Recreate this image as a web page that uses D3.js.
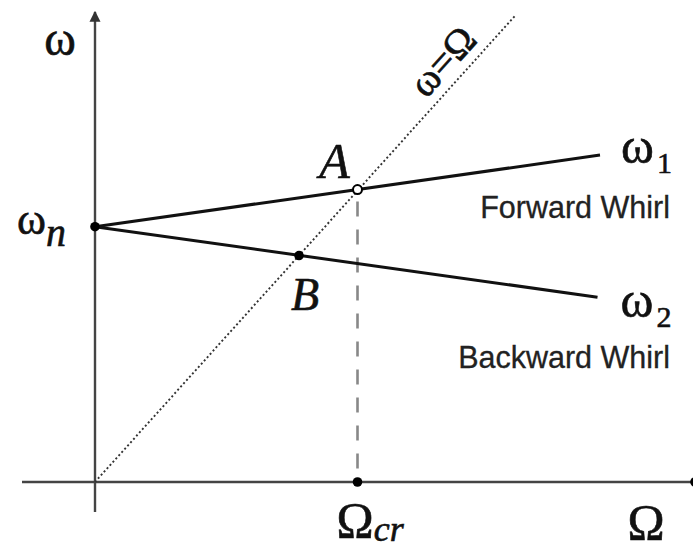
<!DOCTYPE html>
<html>
<head>
<meta charset="utf-8">
<script src="https://cdn.jsdelivr.net/npm/d3@7"></script>
<style>
  html, body { margin: 0; padding: 0; background: #fff; }
  svg { display: block; }
  .serif { font-family: "Liberation Serif", "Times New Roman", Times, serif; stroke: #111; stroke-width: 0.6px; }
  .sans { font-family: "Liberation Sans", Arial, Helvetica, sans-serif; stroke: #222; stroke-width: 0.3px; }
</style>
</head>
<body>
<svg id="chart" width="693" height="550"></svg>
<script>
// ---- data (Ω on x, ω on y) ----
const omegaN = 4.6;                               // natural frequency ωn
const forwardWhirl = [[0, 4.6], [10.1, 5.89]];    // ω1
const backwardWhirl = [[0, 4.6], [10.05, 3.33]];  // ω2
const syncLine = [[0, 0], [8.4, 8.4]];            // ω = Ω
const pointA = [5.25, 5.27];                      // forward whirl crossing, Ωcr
const pointB = [4.08, 4.08];                      // backward whirl crossing
const axisXExtent = [-1.46, 12.05];
const axisYExtent = [-0.54, 8.47];
const labels = {
  yAxis: "ω", xAxis: "Ω", sync: "ω=Ω",
  forward: "Forward Whirl", backward: "Backward Whirl"
};

const svg = d3.select("#chart");
const x = d3.scaleLinear().domain([0, 12]).range([95, 695]);
const y = d3.scaleLinear().domain([0, 8]).range([482, 38]);
const line = d3.line().x(d => x(d[0])).y(d => y(d[1]));

// arrow marker
svg.append("defs").append("marker")
  .attr("id", "arrow").attr("viewBox", "0 0 10 10")
  .attr("refX", 9).attr("refY", 5)
  .attr("markerWidth", 4.6).attr("markerHeight", 4.6)
  .attr("markerUnits", "strokeWidth")
  .attr("orient", "auto")
  .append("path").attr("d", "M0,0 L10,5 L0,10 Z").attr("fill", "#333");

// axes
svg.append("path")
  .attr("d", line([[axisXExtent[0], 0], [axisXExtent[1], 0]]))
  .attr("stroke", "#444").attr("stroke-width", 2.6).attr("fill", "none");
svg.append("path")
  .attr("d", line([[0, axisYExtent[0]], [0, axisYExtent[1]]]))
  .attr("stroke", "#444").attr("stroke-width", 2.4).attr("fill", "none")
  .attr("marker-end", "url(#arrow)");

// ω = Ω dotted line
svg.append("path")
  .attr("d", line(syncLine))
  .attr("stroke", "#333").attr("stroke-width", 1.9)
  .attr("stroke-dasharray", "2,2.4").attr("fill", "none");

// vertical dashed line from A down to axis
svg.append("path")
  .attr("d", line([[pointA[0], pointA[1]], [pointA[0], 0]]))
  .attr("stroke", "#888").attr("stroke-width", 2.6)
  .attr("stroke-dasharray", "15,13").attr("stroke-dashoffset", -12)
  .attr("fill", "none");

// whirl lines
[forwardWhirl, backwardWhirl].forEach(d => {
  svg.append("path").attr("d", line(d))
    .attr("stroke", "#111").attr("stroke-width", 3).attr("fill", "none");
});

// dots
const dots = [[0, omegaN], pointB, [pointA[0], 0], [12.0, 0]];
svg.selectAll("circle.dot").data(dots).join("circle")
  .attr("class", "dot")
  .attr("cx", d => x(d[0])).attr("cy", d => y(d[1]))
  .attr("r", 4.8).attr("fill", "#000");
svg.append("circle")
  .attr("cx", x(pointA[0])).attr("cy", y(pointA[1]))
  .attr("r", 4.5).attr("fill", "#fff").attr("stroke", "#000").attr("stroke-width", 2);

// ---- text ----
// y-axis label ω
svg.append("text").attr("class", "serif")
  .attr("x", x(0) - 35).attr("y", y(7.7))
  .attr("text-anchor", "middle")
  .attr("font-size", 48).attr("fill", "#111")
  .text(labels.yAxis);

// ωn
const tn = svg.append("text").attr("class", "serif")
  .attr("x", 17).attr("y", y(omegaN) + 7)
  .attr("font-size", 44).attr("fill", "#111");
tn.append("tspan").text("ω");
tn.append("tspan").attr("font-style", "italic").attr("font-size", 40)
  .attr("dy", 12).text("n");

// ω1, ω2
function subLabel(px, py, sub) {
  const t = svg.append("text").attr("class", "serif")
    .attr("x", px).attr("y", py)
    .attr("font-size", 50).attr("fill", "#111");
  t.append("tspan").text("ω");
  t.append("tspan").attr("font-size", 30).attr("dy", 10).attr("dx", 3).text(sub);
}
subLabel(x(forwardWhirl[1][0]) + 21, y(forwardWhirl[1][1]) + 8, "1");
subLabel(x(backwardWhirl[1][0]) + 23, y(backwardWhirl[1][1]) + 20, "2");

// whirl captions
svg.append("text").attr("class", "sans")
  .attr("x", 670).attr("y", 218)
  .attr("text-anchor", "end")
  .attr("font-size", 30.5).attr("fill", "#222")
  .text(labels.forward);
svg.append("text").attr("class", "sans")
  .attr("x", 670).attr("y", 368)
  .attr("text-anchor", "end")
  .attr("font-size", 30.5).attr("fill", "#222")
  .text(labels.backward);

// A and B
svg.append("text").attr("class", "serif")
  .attr("x", x(pointA[0]) - 23).attr("y", y(pointA[1]) - 12)
  .attr("text-anchor", "middle")
  .attr("font-style", "italic")
  .attr("font-size", 50).attr("fill", "#111").text("A");
svg.append("text").attr("class", "serif")
  .attr("x", x(pointB[0]) + 6).attr("y", y(pointB[1]) + 54)
  .attr("text-anchor", "middle")
  .attr("font-style", "italic")
  .attr("font-size", 46).attr("fill", "#111").text("B");

// Ωcr
const tcr = svg.append("text").attr("class", "serif")
  .attr("x", x(pointA[0]) - 21).attr("y", 537)
  .attr("font-size", 50).attr("fill", "#111");
tcr.append("tspan").text("Ω");
tcr.append("tspan").attr("font-style", "italic").attr("font-size", 36)
  .attr("dy", 4).text("cr");

// Ω axis label
svg.append("text").attr("class", "serif")
  .attr("x", 646).attr("y", 539)
  .attr("text-anchor", "middle")
  .attr("font-size", 50).attr("fill", "#111")
  .text(labels.xAxis);

// ω=Ω rotated label
const p0 = [x(syncLine[0][0]), y(syncLine[0][1])];
const p1 = [x(syncLine[1][0]), y(syncLine[1][1])];
const ang = Math.atan2(p1[1] - p0[1], p1[0] - p0[0]) * 180 / Math.PI;
svg.append("text").attr("class", "serif")
  .attr("transform", `translate(${x(7.3)},${y(7.3)}) rotate(${ang})`)
  .attr("x", 0).attr("y", -10)
  .attr("text-anchor", "middle")
  .attr("font-size", 40).attr("fill", "#111")
  .text(labels.sync);
</script>
</body>
</html>
